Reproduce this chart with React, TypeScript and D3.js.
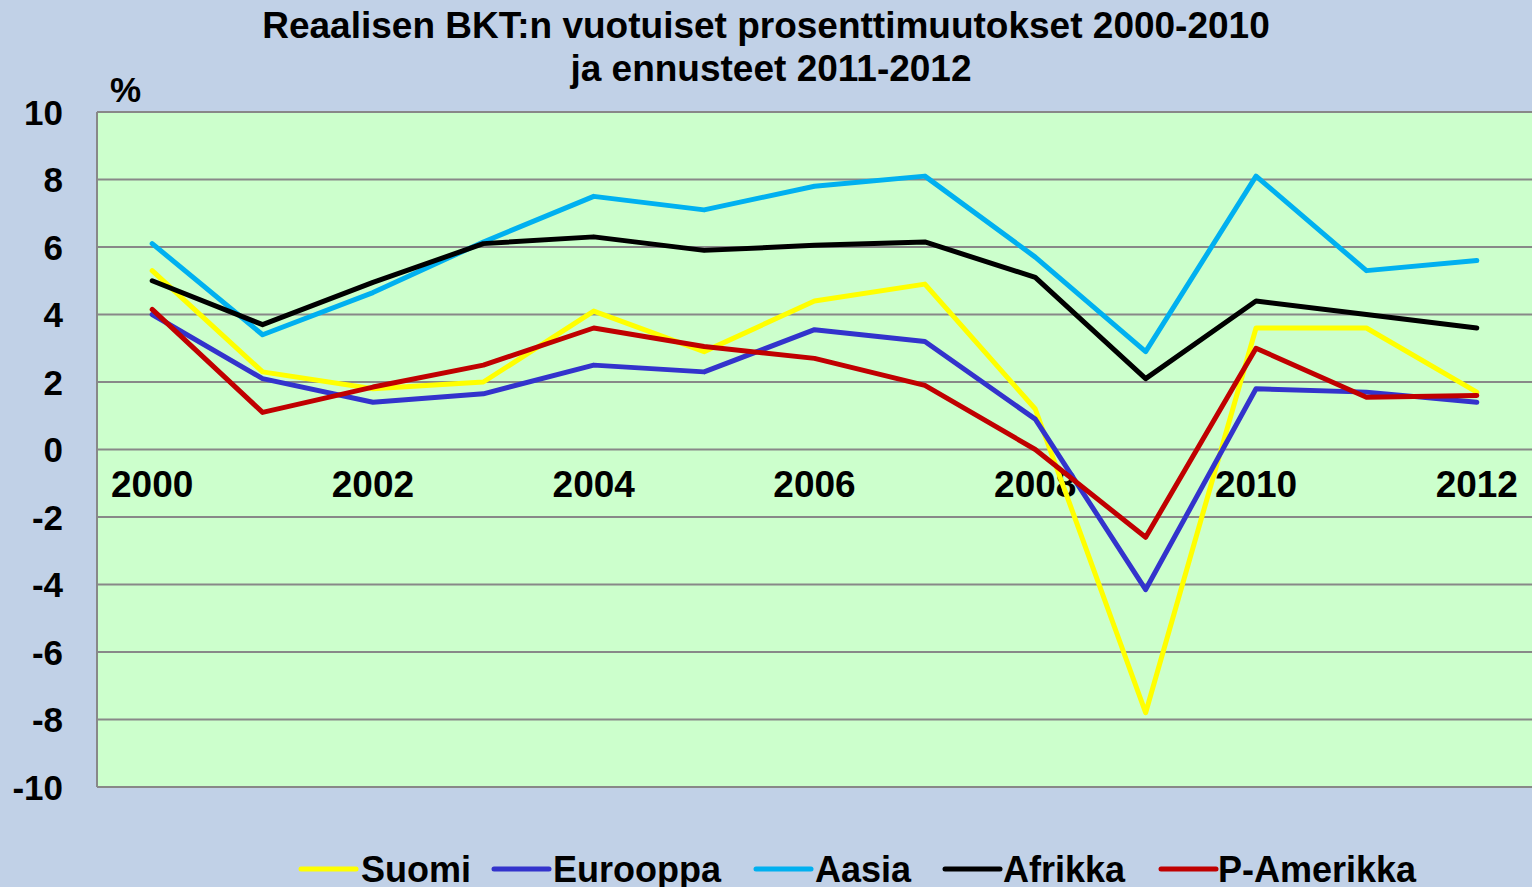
import React from "react";
import * as d3 from "d3";

const years = [2000, 2001, 2002, 2003, 2004, 2005, 2006, 2007, 2008, 2009, 2010, 2011, 2012];
const yearLabels = ["2000", "", "2002", "", "2004", "", "2006", "", "2008", "", "2010", "", "2012"];
const yTicks = [10, 8, 6, 4, 2, 0, -2, -4, -6, -8, -10];

const suomi = [5.3, 2.3, 1.8, 2.0, 4.1, 2.9, 4.4, 4.9, 1.2, -7.8, 3.6, 3.6, 1.7];
const eurooppa = [4.0, 2.1, 1.4, 1.65, 2.5, 2.3, 3.55, 3.2, 0.9, -4.15, 1.8, 1.7, 1.4];
const aasia = [6.1, 3.4, 4.65, 6.15, 7.5, 7.1, 7.8, 8.1, 5.7, 2.9, 8.1, 5.3, 5.6];
const afrikka = [5.0, 3.7, 4.95, 6.1, 6.3, 5.9, 6.05, 6.15, 5.1, 2.1, 4.4, 4.0, 3.6];
const pAmerikka = [4.15, 1.1, 1.85, 2.5, 3.6, 3.05, 2.7, 1.9, 0.0, -2.6, 3.0, 1.55, 1.6];

const seriesNames = ["Suomi", "Eurooppa", "Aasia", "Afrikka", "P-Amerikka"];
const seriesValues = [suomi, eurooppa, aasia, afrikka, pAmerikka];
const seriesColors = ["#FFFF00", "#3333CC", "#00B0F0", "#000000", "#C00000"];

const W = 1532;
const H = 887;
const plot = { left: 97, right: 1532, top: 112, bottom: 787 };
const FONT = "Arial, 'Liberation Sans', Helvetica, sans-serif";

export default function App() {
  const x = d3
    .scaleBand<number>()
    .domain(years)
    .range([plot.left, plot.right]);
  const cx = (yr: number) => (x(yr) as number) + x.bandwidth() / 2;
  const y = d3.scaleLinear().domain([-10, 10]).range([plot.bottom, plot.top]);

  const line = d3
    .line<number>()
    .x((_, i) => cx(years[i]))
    .y((v) => y(v));

  const legendItems = [
    { lx: 301, tx: 361 },
    { lx: 494, tx: 553 },
    { lx: 756, tx: 815 },
    { lx: 945, tx: 1003 },
    { lx: 1161, tx: 1218 },
  ];

  return (
    <svg
      width={W}
      height={H}
      style={{ position: "absolute", left: 0, top: 0, display: "block" }}
      fontFamily={FONT}
    >
      <rect x={0} y={0} width={W} height={H} fill="#C1D1E7" />
      <text x={766} y={38} textAnchor="middle" fontSize={37} fontWeight="bold" fill="#000">
        Reaalisen BKT:n vuotuiset prosenttimuutokset 2000-2010
      </text>
      <text x={771} y={81} textAnchor="middle" fontSize={37} fontWeight="bold" fill="#000">
        ja ennusteet 2011-2012
      </text>
      <text x={110} y={102} fontSize={35} fontWeight="bold" fill="#000">
        %
      </text>

      <rect
        x={plot.left}
        y={plot.top}
        width={plot.right - plot.left}
        height={plot.bottom - plot.top}
        fill="#CCFFCC"
      />
      {yTicks.map((t) => (
        <line
          key={"g" + t}
          x1={plot.left}
          x2={plot.right}
          y1={y(t)}
          y2={y(t)}
          stroke="#888888"
          strokeWidth={2}
        />
      ))}
      <line x1={plot.left} x2={plot.left} y1={plot.top} y2={plot.bottom} stroke="#888888" strokeWidth={2} />

      {yTicks.map((t) => (
        <text
          key={"yl" + t}
          x={63}
          y={y(t) + 12.5}
          textAnchor="end"
          fontSize={35}
          fontWeight="bold"
          fill="#000"
        >
          {t}
        </text>
      ))}

      {years.map((yr, i) =>
        yearLabels[i] ? (
          <text
            key={"xl" + yr}
            x={cx(yr)}
            y={497}
            textAnchor="middle"
            fontSize={37}
            fontWeight="bold"
            fill="#000"
          >
            {yearLabels[i]}
          </text>
        ) : null
      )}

      {seriesValues.map((vals, si) => (
        <path
          key={seriesNames[si]}
          d={line(vals) || ""}
          fill="none"
          stroke={seriesColors[si]}
          strokeWidth={5}
          strokeLinejoin="round"
          strokeLinecap="round"
        />
      ))}

      {seriesNames.map((name, si) => (
        <g key={"lg" + name}>
          <line
            x1={legendItems[si].lx}
            x2={legendItems[si].lx + 55}
            y1={869}
            y2={869}
            stroke={seriesColors[si]}
            strokeWidth={5}
            strokeLinecap="round"
          />
          <text x={legendItems[si].tx} y={882} fontSize={36} fontWeight="bold" fill="#000">
            {name}
          </text>
        </g>
      ))}
    </svg>
  );
}
